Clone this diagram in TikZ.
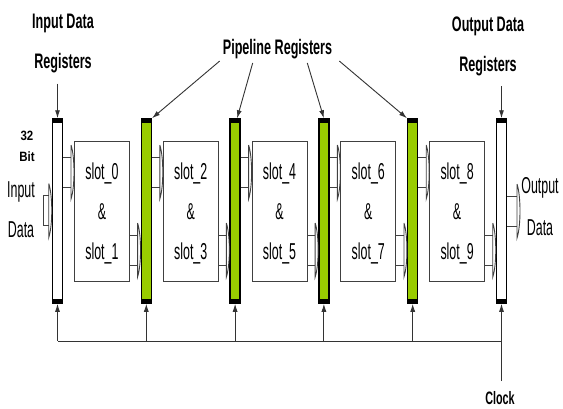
\documentclass[tikz,border=0pt]{standalone}
\usepackage{fontspec}
\setmainfont{Liberation Sans}
\newfontfamily\narrowfont[FakeStretch=0.54]{Liberation Sans}
\newfontfamily\headfont[FakeStretch=0.60]{Liberation Sans}
\newfontfamily\bitfont[FakeStretch=0.85]{Liberation Sans}
\usepackage{tikz}
\usetikzlibrary{arrows.meta,positioning,calc}
\definecolor{limegreen}{RGB}{153,204,0}
\tikzstyle{arrow} = [line width=0.9pt, draw=black!80, -{Latex[length=8pt,width=5pt]}]
\tikzstyle{wire} = [line width=0.9pt, draw=black!80]
\tikzstyle{bus} = [line width=0.9pt, draw=black!75]
\tikzset{busend/.pic={\draw[bus] (0,-27) -- (0,27) .. controls +(4,-12) and +(4,12) .. (0,-27);}}
% bus from point #1 to point #2, centred on height #3
\newcommand{\busto}[3]{%
  \draw[bus] (#1 |- 0,#3-15) -- ($(#2 |- 0,#3-15)+(-3,0)$)
             (#1 |- 0,#3+15) -- ($(#2 |- 0,#3+15)+(-3,0)$);
  \pic at ($(#2 |- 0,#3)+(-3,0)$) {busend};}

\begin{document}
\begin{tikzpicture}[x=1pt, y=-1pt, node distance=88.8pt,
    reg/.style={draw=black, line width=1.5pt, minimum width=10pt, minimum height=184pt, inner sep=0pt,
      path picture={\fill[black] (path picture bounding box.north west) rectangle ([yshift=-4pt]path picture bounding box.north east);
                    \fill[black] (path picture bounding box.south west) rectangle ([yshift=4pt]path picture bounding box.south east);}},
    pipe_reg/.style={reg, fill=limegreen},
    io_reg/.style={reg, fill=white},
    slot_box/.style={draw=black!75, line width=0.8pt, fill=white, minimum width=55pt, minimum height=140pt,
      inner sep=0pt, text depth=0pt, align=center, font=\narrowfont\fontsize{23}{40}\selectfont},
    head/.style={align=center, inner sep=0pt, font=\headfont\bfseries\fontsize{21}{40}\selectfont}]
    \useasboundingbox (0,0) rectangle (563,408);

    % Registers
    \node[io_reg] (reg0) at (57.5,211) {};
    \node[pipe_reg] (reg1) [right of=reg0] {};
    \node[pipe_reg] (reg2) [right of=reg1] {};
    \node[pipe_reg] (reg3) [right of=reg2] {};
    \node[pipe_reg] (reg4) [right of=reg3] {};
    \node[io_reg] (reg5) [right of=reg4] {};

    % Slot blocks
    \node[slot_box] (slot01) [right of=reg0, node distance=44.4pt] {slot\_0\\\&\\slot\_1};
    \node[slot_box] (slot23) [right of=reg1, node distance=44.4pt] {slot\_2\\\&\\slot\_3};
    \node[slot_box] (slot45) [right of=reg2, node distance=44.4pt] {slot\_4\\\&\\slot\_5};
    \node[slot_box] (slot67) [right of=reg3, node distance=44.4pt] {slot\_6\\\&\\slot\_7};
    \node[slot_box] (slot89) [right of=reg4, node distance=44.4pt] {slot\_8\\\&\\slot\_9};

    % Labels
    \node[head] (inhead) at (63,43) {Input Data\\Registers};
    \node[head] (pipehead) at (277.5,49) {Pipeline Registers};
    \node[head] (outhead) at (488,46.5) {Output Data\\Registers};
    \node[align=center, inner sep=0pt, font=\bitfont\bfseries\fontsize{13.5}{21}\selectfont] (bitlabel) at (27,146) {32\\Bit};
    \node[align=center, inner sep=0pt, font=\narrowfont\fontsize{23}{40}\selectfont] (inlabel) at (21,210) {Input\\Data};
    \node[align=center, inner sep=0pt, font=\narrowfont\fontsize{23}{42}\selectfont] (outlabel) at (540,206.5) {Output\\Data};
    \node[inner sep=0pt, font=\headfont\bfseries\fontsize{18}{20}\selectfont] (clocklabel) at (500,398.5) {Clock};

    % Label arrows
    \draw[arrow] ($(inhead.south -| reg0.north)+(0,11)$) -- (reg0.north);
    \draw[arrow] ($(outhead.south -| reg5.north)+(0,10)$) -- (reg5.north);
    \draw[arrow] ($(pipehead.south west)+(-3,2)$) -- (reg1.north east);
    \draw[arrow] ($(pipehead.south west)+(30,4)$) -- ($(reg2.north)+(2,0)$);
    \draw[arrow] ($(pipehead.south east)+(-25,4)$) -- (reg3.north);
    \draw[arrow] ($(pipehead.south east)+(7,2)$) -- (reg4.north west);

    % Data buses
    \coordinate (din) at (43,210.5);
    \coordinate (dout) at (520,211);
    \draw[bus] (din |- 0,195.5) -- (din |- 0,225.5);
    \busto{din}{reg0.west}{210.5}
    \busto{reg0.east}{slot01.west}{172}
    \busto{slot01.east}{reg1.west}{250}
    \busto{reg1.east}{slot23.west}{172}
    \busto{slot23.east}{reg2.west}{250}
    \busto{reg2.east}{slot45.west}{172}
    \busto{slot45.east}{reg3.west}{250}
    \busto{reg3.east}{slot67.west}{172}
    \busto{slot67.east}{reg4.west}{250}
    \busto{reg4.east}{slot89.west}{172}
    \busto{slot89.east}{reg5.west}{250}
    \busto{reg5.east}{dout}{211}

    % Clock
    \coordinate (clkin) at (501.5,381);
    \draw[wire] (clkin) |- (reg0 |- 0,341);
    \draw[arrow] (reg0 |- 0,341) -- (reg0.south);
    \draw[arrow] (reg1 |- 0,341) -- (reg1.south);
    \draw[arrow] (reg2 |- 0,341) -- (reg2.south);
    \draw[arrow] (reg3 |- 0,341) -- (reg3.south);
    \draw[arrow] (reg4 |- 0,341) -- (reg4.south);
    \draw[arrow] (reg5 |- 0,341) -- (reg5.south);
\end{tikzpicture}
\end{document}
